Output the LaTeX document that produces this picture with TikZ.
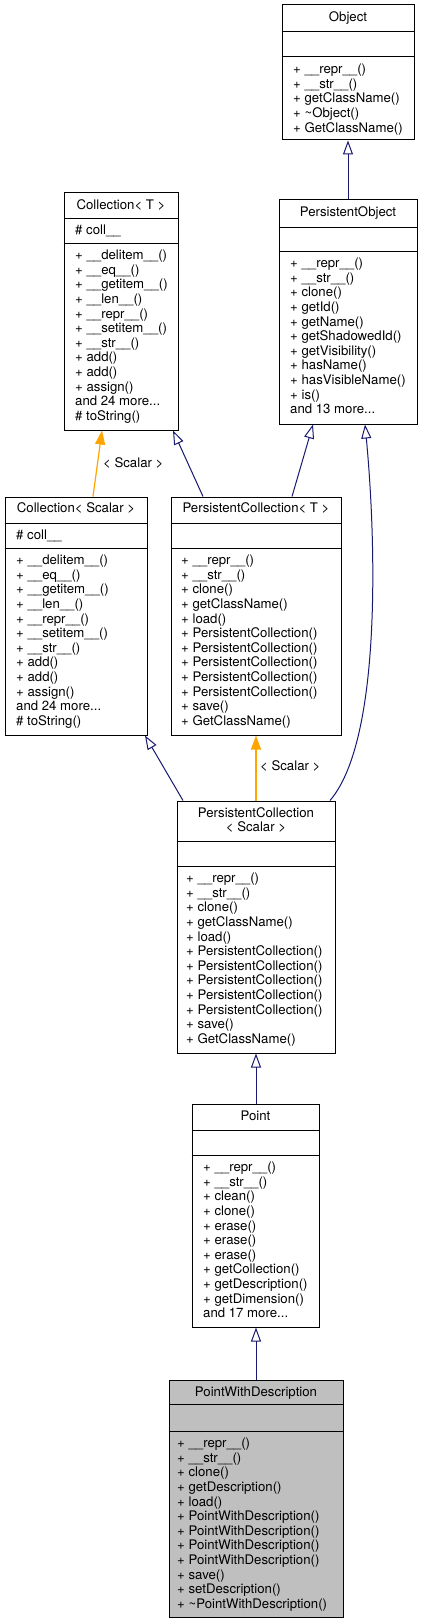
\documentclass[tikz,border=0pt]{standalone}
\usepackage{fontspec}
\setmainfont{TeX Gyre Heros}
\usetikzlibrary{arrows.meta}
\definecolor{edgeblue}{HTML}{191970}
\definecolor{tmplorange}{HTML}{FFA500}
\definecolor{curfill}{HTML}{BFBFBF}
\newcommand{\clsfont}{\fontsize{13.2pt}{14.6pt}\selectfont}
\newcommand{\fstrut}{\rule{0pt}{11pt}}
\begin{document}
\begin{tikzpicture}[x=1pt,y=-1pt,
 classbox/.style={draw=black, line width=1pt, fill=white, inner sep=0pt, rectangle},
 sepline/.style={draw=black, line width=1pt},
 titletext/.style={anchor=base, inner sep=0pt, font=\clsfont},
 titletwo/.style={anchor=north, inner sep=0pt, align=center, font=\clsfont},
 membertext/.style={anchor=north west, inner sep=0pt, align=left, font=\clsfont},
 inh/.style={draw=edgeblue, line width=1pt, -{Triangle[open, length=14pt, width=10pt]}},
 tmpl/.style={draw=tmplorange, line width=1.2pt, -{Triangle[length=14pt, width=10pt, fill=tmplorange]}},
 lbl/.style={anchor=base west, inner sep=0pt, font=\clsfont}]
\path[use as bounding box, fill=white] (0,0) rectangle (421,1624);

% ---------- Object ----------
\node[classbox, minimum width=132pt, minimum height=135pt] (obj) at (348,72.5) {};
\draw[sepline] (obj.west |- 0,32) -- (obj.east |- 0,32);
\draw[sepline] (obj.west |- 0,57) -- (obj.east |- 0,57);
\node[titletext] (objN) at (348,21.5) {Object};
\node[membertext] (objM) at (293,62.5) {\fstrut+ \_\_repr\_\_()\\+ \_\_str\_\_()\\+ getClassName()\\+ \textasciitilde Object()\\+ GetClassName()};

% ---------- PersistentObject ----------
\node[classbox, minimum width=138pt, minimum height=224pt] (pobj) at (348,312) {};
\draw[sepline] (pobj.west |- 0,227) -- (pobj.east |- 0,227);
\draw[sepline] (pobj.west |- 0,251) -- (pobj.east |- 0,251);
\node[titletext] (pobjN) at (348,216.5) {PersistentObject};
\node[membertext] (pobjM) at (290,256.5) {\fstrut+ \_\_repr\_\_()\\+ \_\_str\_\_()\\+ clone()\\+ getId()\\+ getName()\\+ getShadowedId()\\+ getVisibility()\\+ hasName()\\+ hasVisibleName()\\+ is()\\and 13 more...};

% ---------- Collection< T > ----------
\node[classbox, minimum width=114pt, minimum height=237pt] (collT) at (121,311.5) {};
\draw[sepline] (collT.west |- 0,218) -- (collT.east |- 0,218);
\draw[sepline] (collT.west |- 0,243) -- (collT.east |- 0,243);
\node[titletext] (collTN) at (121,209) {Collection< T >};
\node[membertext] (collTA) at (75,223.5) {\fstrut\# coll\_\_};
\node[membertext] (collTM) at (75,248.5) {\fstrut+ \_\_delitem\_\_()\\+ \_\_eq\_\_()\\+ \_\_getitem\_\_()\\+ \_\_len\_\_()\\+ \_\_repr\_\_()\\+ \_\_setitem\_\_()\\+ \_\_str\_\_()\\+ add()\\+ add()\\+ assign()\\and 24 more...\\\# toString()};

% ---------- Collection< Scalar > ----------
\node[classbox, minimum width=142pt, minimum height=238pt] (collS) at (76,616) {};
\draw[sepline] (collS.west |- 0,523) -- (collS.east |- 0,523);
\draw[sepline] (collS.west |- 0,548) -- (collS.east |- 0,548);
\node[titletext] (collSN) at (76,512.5) {Collection< Scalar >};
\node[membertext] (collSA) at (16,528.5) {\fstrut\# coll\_\_};
\node[membertext] (collSM) at (16,553.5) {\fstrut+ \_\_delitem\_\_()\\+ \_\_eq\_\_()\\+ \_\_getitem\_\_()\\+ \_\_len\_\_()\\+ \_\_repr\_\_()\\+ \_\_setitem\_\_()\\+ \_\_str\_\_()\\+ add()\\+ add()\\+ assign()\\and 24 more...\\\# toString()};

% ---------- PersistentCollection< T > ----------
\node[classbox, minimum width=170pt, minimum height=238pt] (pcT) at (256,616) {};
\draw[sepline] (pcT.west |- 0,523) -- (pcT.east |- 0,523);
\draw[sepline] (pcT.west |- 0,548) -- (pcT.east |- 0,548);
\node[titletext] (pcTN) at (256,512.5) {PersistentCollection< T >};
\node[membertext] (pcTM) at (181,553.5) {\fstrut+ \_\_repr\_\_()\\+ \_\_str\_\_()\\+ clone()\\+ getClassName()\\+ load()\\+ PersistentCollection()\\+ PersistentCollection()\\+ PersistentCollection()\\+ PersistentCollection()\\+ PersistentCollection()\\+ save()\\+ GetClassName()};

% ---------- PersistentCollection< Scalar > ----------
\node[classbox, minimum width=158pt, minimum height=252pt] (pcS) at (256,927) {};
\draw[sepline] (pcS.west |- 0,841) -- (pcS.east |- 0,841);
\draw[sepline] (pcS.west |- 0,866) -- (pcS.east |- 0,866);
\node[titletwo] (pcSN) at (256,806) {\fstrut PersistentCollection\\< Scalar >};
\node[membertext] (pcSM) at (186,871.5) {\fstrut+ \_\_repr\_\_()\\+ \_\_str\_\_()\\+ clone()\\+ getClassName()\\+ load()\\+ PersistentCollection()\\+ PersistentCollection()\\+ PersistentCollection()\\+ PersistentCollection()\\+ PersistentCollection()\\+ save()\\+ GetClassName()};

% ---------- Point ----------
\node[classbox, minimum width=127pt, minimum height=223pt] (point) at (255.5,1215.5) {};
\draw[sepline] (point.west |- 0,1130) -- (point.east |- 0,1130);
\draw[sepline] (point.west |- 0,1155) -- (point.east |- 0,1155);
\node[titletext] (pointN) at (255.5,1120) {Point};
\node[membertext] (pointM) at (203,1160.5) {\fstrut+ \_\_repr\_\_()\\+ \_\_str\_\_()\\+ clean()\\+ clone()\\+ erase()\\+ erase()\\+ erase()\\+ getCollection()\\+ getDescription()\\+ getDimension()\\and 17 more...};

% ---------- PointWithDescription ----------
\node[classbox, fill=curfill, minimum width=174pt, minimum height=237pt] (pwd) at (256,1498.5) {};
\draw[sepline] (pwd.west |- 0,1404) -- (pwd.east |- 0,1404);
\draw[sepline] (pwd.west |- 0,1431) -- (pwd.east |- 0,1431);
\node[titletext] (pwdN) at (256,1396) {PointWithDescription};
\node[membertext] (pwdM) at (177,1436.5) {\fstrut+ \_\_repr\_\_()\\+ \_\_str\_\_()\\+ clone()\\+ getDescription()\\+ load()\\+ PointWithDescription()\\+ PointWithDescription()\\+ PointWithDescription()\\+ PointWithDescription()\\+ save()\\+ setDescription()\\+ \textasciitilde PointWithDescription()};

% ---------- connectors ----------
\draw[inh] (pobj.north) -- (obj.south);
\draw[inh] ([xshift=36pt]pcT.north) -- ([xshift=-35pt]pobj.south);
\draw[inh] ([xshift=74pt]pcS.north) .. controls (382,740) and (376,540) .. ([xshift=17pt]pobj.south);
\draw[inh] ([xshift=-53pt]pcT.north) -- ([xshift=52pt]collT.south);
\draw[tmpl] ([xshift=17pt]collS.north) -- ([xshift=-19pt]collT.south);
\node[lbl] (lblA) at (103,467) {< Scalar >};
\draw[inh] ([xshift=-73pt]pcS.north) -- ([xshift=69pt]collS.south);
\draw[tmpl] (pcS.north) -- (pcT.south);
\node[lbl] (lblB) at (260,770) {< Scalar >};
\draw[inh] ([xshift=0.5pt]point.north) -- (pcS.south);
\draw[inh] (pwd.north) -- ([xshift=0.5pt]point.south);
\end{tikzpicture}
\end{document}
